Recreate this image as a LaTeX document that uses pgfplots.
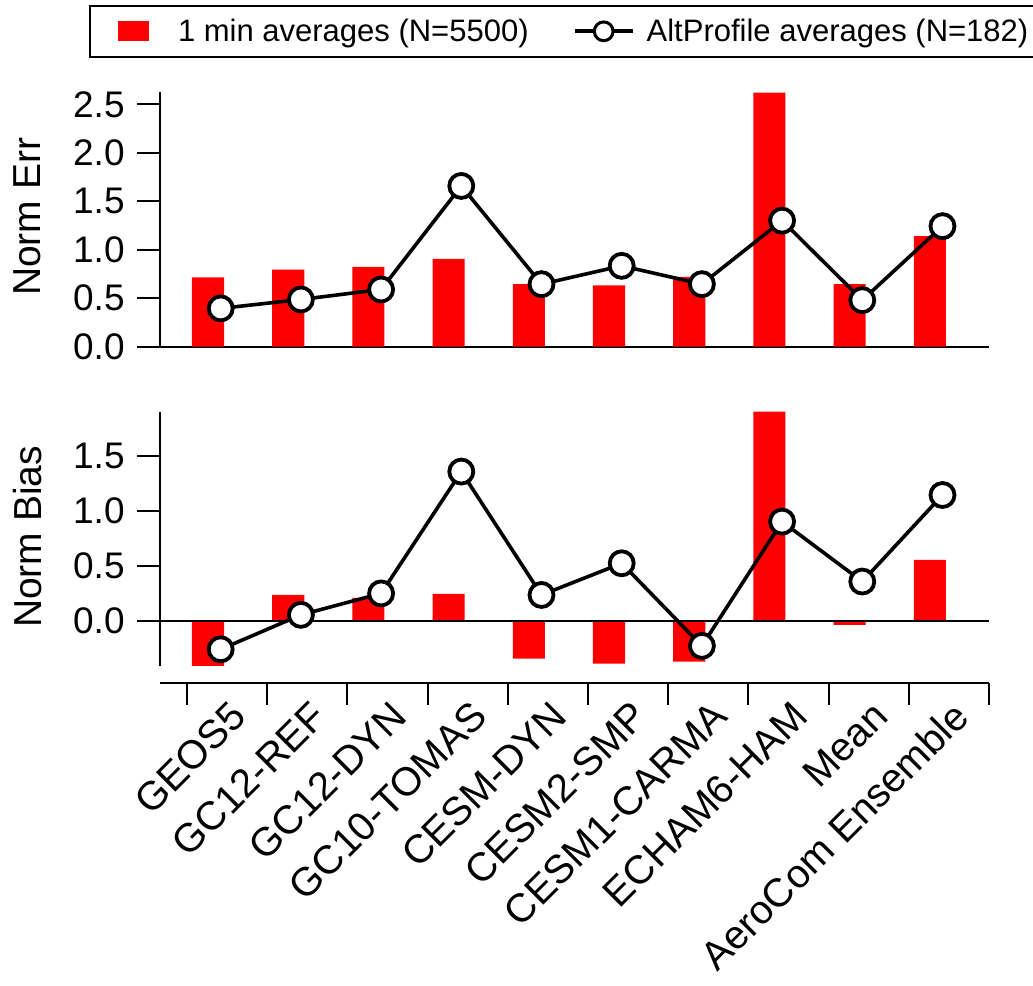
\documentclass[border=0pt]{standalone}
\usepackage{fontspec}
\setmainfont{Liberation Sans}
\usepackage{pgfplots}
\pgfplotsset{compat=1.18}
\pgfplotsset{
  panel/.style={
    scale only axis, width=414.5pt, xmin=-0.337, xmax=10,
    axis line style={line width=1pt, -},
    tick style={line width=1pt, black},
    major tick length=11.5pt, tick align=outside,
    axis y line*=left,
    yticklabel style={font=\fontsize{18.5}{22}\selectfont, inner sep=0pt, anchor=east, xshift=-6pt},
    ylabel style={font=\fontsize{19.5}{23}\selectfont, anchor=center},
    /pgf/number format/.cd, fixed, fixed zerofill, precision=1, assume math mode=true,
  },
  barplot/.style={ybar, bar width=0.4, bar shift=0pt, fill=red, draw=none},
  lineplot/.style={black, line width=1.8pt, mark=*, mark size=6pt,
    mark options={fill=white, draw=black, line width=1.9pt, solid}},
}
\begin{document}
\begin{tikzpicture}
\path[use as bounding box] (0,0) rectangle (516.5pt,492.5pt);
% ---------- top panel ----------
\begin{axis}[panel, at={(80pt,319.15pt)}, anchor=south west, height=127.5pt,
  ymin=0, ymax=2.63, axis x line*=bottom, xtick=\empty,
  ytick={0,0.5,1,1.5,2,2.5},
  ylabel={Norm Err}, ylabel style={at={(axis description cs:-0.160,0.509)}},
  legend style={at={(axis description cs:-0.0856,1.340)}, anchor=north west,
    draw=black, line width=1pt, inner xsep=4pt, inner ysep=6.3pt,
    font=\fontsize{15.5}{18}\selectfont, legend columns=2,
    nodes={inner sep=0pt},
    /tikz/column 2/.style={column sep=22pt},
    /tikz/column 1/.style={column sep=14.5pt},
    /tikz/column 3/.style={column sep=6pt}},
]
\addplot[barplot, legend image code/.code={\path (-10pt,0pt); \fill[red] (0pt,-5pt) rectangle (15.5pt,5pt);}]
  coordinates {(0.262,0.714) (1.262,0.796) (2.262,0.824) (3.262,0.906) (4.262,0.645)
               (5.262,0.632) (6.262,0.721) (7.262,2.62) (8.262,0.645) (9.262,1.14)};
\addlegendentry{1 min averages (N=5500)}
\addplot[lineplot, legend image code/.code={\draw[line width=2pt] (0pt,0pt) -- (29pt,0pt); \draw[line width=1.5pt, fill=white] (14.5pt,0pt) circle (4.7pt);}]
  coordinates {(0.42,0.395) (1.42,0.487) (2.42,0.59) (3.42,1.658) (4.42,0.645)
               (5.42,0.834) (6.42,0.645) (7.42,1.30) (8.42,0.48) (9.42,1.243)};
\addlegendentry{AltProfile averages (N=182)}
\end{axis}
% ---------- bottom panel ----------
\begin{axis}[panel, at={(80pt,159.5pt)}, anchor=south west, height=127pt,
  ymin=-0.41, ymax=1.90, axis x line=none, xtick=\empty,
  ytick={0,0.5,1,1.5},
  ylabel={Norm Bias}, ylabel style={at={(axis description cs:-0.160,0.508)}},
]
\addplot[barplot]
  coordinates {(0.262,-0.415) (1.262,0.236) (2.262,0.21) (3.262,0.245) (4.262,-0.342)
               (5.262,-0.388) (6.262,-0.37) (7.262,1.903) (8.262,-0.035) (9.262,0.555)};
\draw[line width=1pt] (axis cs:-0.337,0) -- (axis cs:10,0);
\addplot[lineplot]
  coordinates {(0.42,-0.258) (1.42,0.055) (2.42,0.25) (3.42,1.358) (4.42,0.236)
               (5.42,0.524) (6.42,-0.227) (7.42,0.903) (8.42,0.358) (9.42,1.145)};
\end{axis}
% ---------- category axis ----------
\begin{axis}[scale only axis, at={(80pt,151.15pt)}, anchor=south west,
  width=414.5pt, height=10pt, xmin=-0.337, xmax=10, ymin=0, ymax=1,
  axis y line=none, axis x line*=bottom,
  axis line style={line width=1pt, -},
  tick style={line width=1pt, black},
  xtick={0,1,...,10}, xticklabels={},
  major tick length=11pt, tick align=outside,
  extra x ticks={0.52,1.52,2.52,3.52,4.52,5.52,6.52,7.52,8.52,9.52},
  extra x tick labels={GEOS5,GC12-REF,GC12-DYN,GC10-TOMAS,CESM-DYN,CESM2-SMP,CESM1-CARMA,ECHAM6-HAM,Mean,AeroCom Ensemble},
  extra x tick style={major tick length=0pt,
    tick label style={yshift=-8pt, rotate=45, anchor=north east, inner sep=0pt,
      font=\fontsize{20}{24}\selectfont}},
]
\addplot[draw=none, forget plot] coordinates {(0,0)};
\end{axis}
\end{tikzpicture}
\end{document}
